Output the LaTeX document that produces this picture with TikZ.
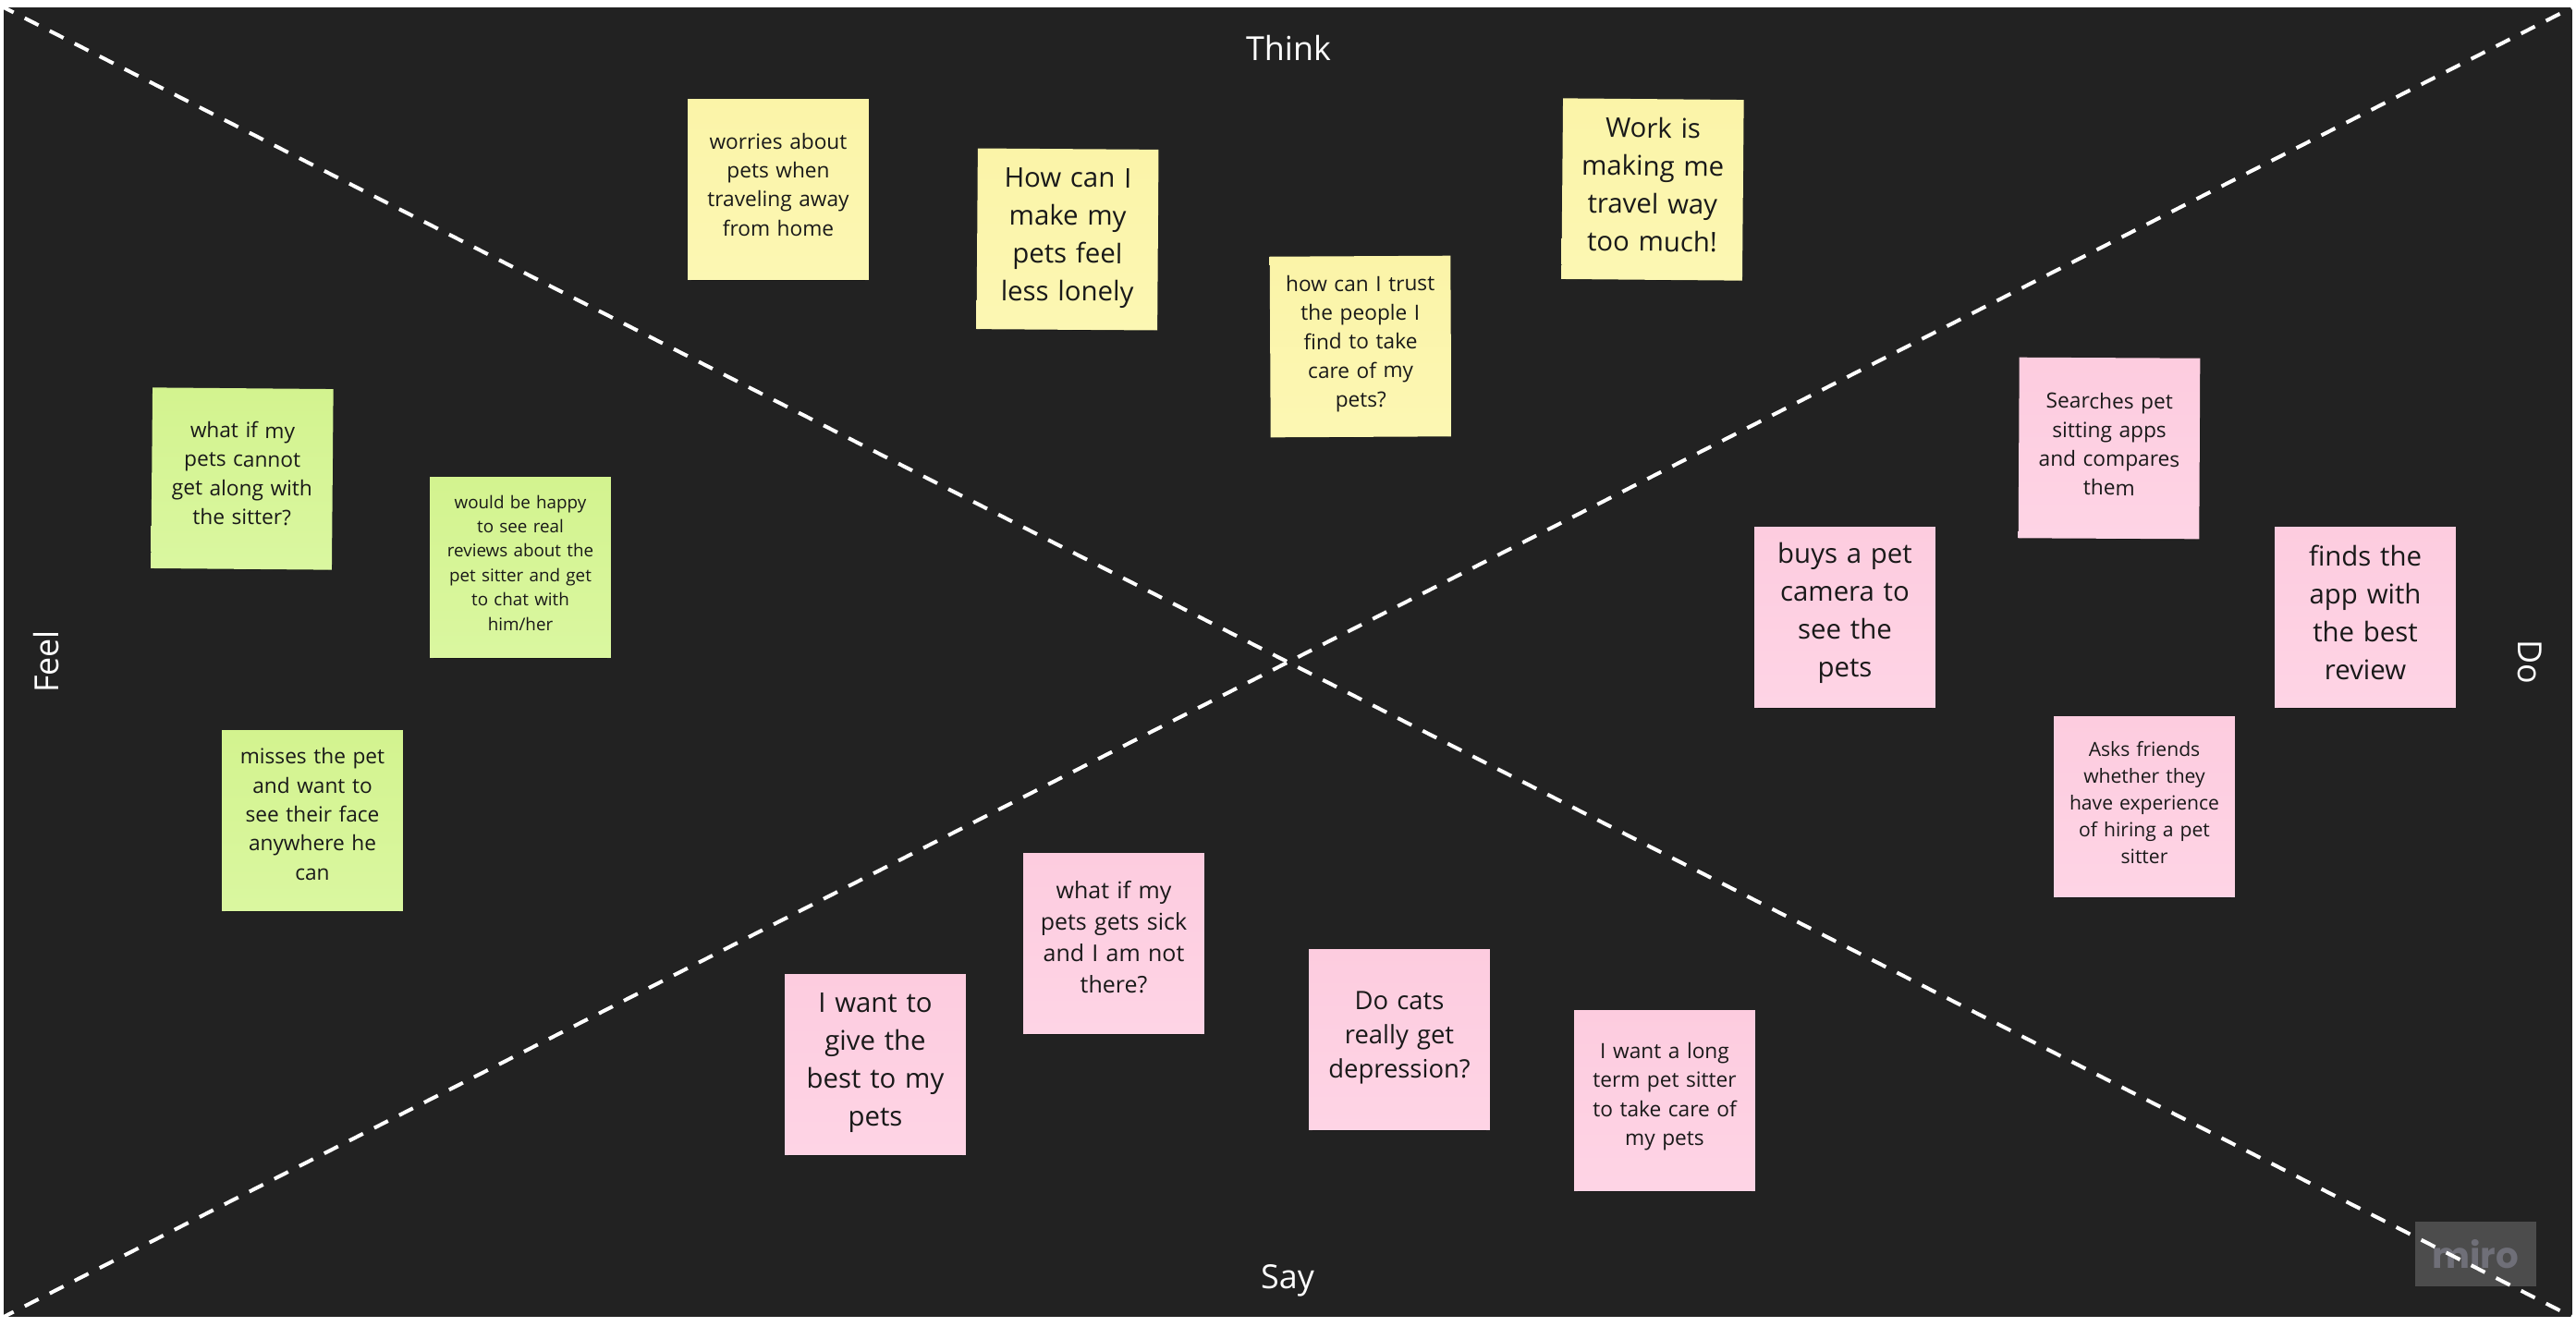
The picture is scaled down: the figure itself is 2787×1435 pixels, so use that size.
\documentclass[tikz,border=0pt]{standalone}
\usepackage{fontspec}
\setmainfont{Open Sans}
\usetikzlibrary{shadows}
\definecolor{boardgrey}{HTML}{222222}
\definecolor{yellowtop}{HTML}{FBF4A8}
\definecolor{yellowlow}{HTML}{FCF7B3}
\definecolor{greentop}{HTML}{D3F38F}
\definecolor{greenlow}{HTML}{DAF7A0}
\definecolor{pinktop}{HTML}{FDCCDF}
\definecolor{pinklow}{HTML}{FED4E5}
\definecolor{badgegrey}{HTML}{4C4C4C}
\definecolor{badgetext}{HTML}{6F6F78}
\tikzset{
	note/.style={minimum size=1.955cm, inner sep=0pt, text width=1.955cm, align=center, text=black!90,
		drop shadow={shadow xshift=0cm, shadow yshift=-0.05cm, shadow scale=0.96, opacity=0.3, fill=black}},
	yellownote/.style={note, top color=yellowtop, bottom color=yellowlow},
	greennote/.style={note, top color=greentop, bottom color=greenlow},
	pinknote/.style={note, top color=pinktop, bottom color=pinklow},
	nudge/.style={execute at end node={\par\vspace{#1}}},
	bigtext/.style={font=\fontsize{8.35pt}{11.65pt}\selectfont},
	cattext/.style={font=\fontsize{7.8pt}{10.6pt}\selectfont},
	sicktext/.style={font=\fontsize{7.1pt}{9.7pt}\selectfont},
	midtext/.style={font=\fontsize{6.45pt}{8.9pt}\selectfont},
	askstext/.style={font=\fontsize{6pt}{8.25pt}\selectfont},
	smalltext/.style={font=\fontsize{5.35pt}{7.5pt}\selectfont},
	sidelabel/.style={text=white, font=\fontsize{10.2pt}{13pt}\selectfont, inner sep=0pt},
	splitline/.style={white, line width=0.04cm, dash pattern=on 0.168cm off 0.135cm, dash phase=0.048cm}
}
\begin{document}
\begin{tikzpicture}[x=0.01cm, y=-0.01cm]
	\useasboundingbox (0,0) rectangle (2787,1435);
	\fill[white] (0,0) rectangle (2787,1435);
	\fill[boardgrey] (4,8) rectangle (2783,1425);
	\coordinate (boardnw) at (4,8);
	\coordinate (boardne) at (2783,8);
	\coordinate (boardsw) at (4,1425);
	\coordinate (boardse) at (2783,1425);
	% badge sits below the dashes
	\fill[badgegrey] (2613,1322) rectangle (2744,1392);
	\node[text=badgetext, font=\fontsize{11pt}{14pt}\fontspec{Poppins}\bfseries, inner sep=0pt] (badge) at (2678,1357) {miro};
	\draw[splitline] (boardnw) -- (boardse);
	\draw[splitline] (boardsw) -- (boardne);
	% quadrant names
	\node[sidelabel] (think) at (1394,52) {Think};
	\node[sidelabel] (say) at (1393,1386) {Say};
	\node[sidelabel, rotate=90] (feel) at (50,716) {Feel};
	\node[sidelabel, rotate=-90] (do) at (2737,716) {Do};
	% think
	\node[yellownote, midtext, nudge=0.107cm] (worries) at (842,205) {worries about\\pets when\\traveling away\\from home};
	\node[yellownote, bigtext, rotate=-0.4, nudge=0.036cm] (lonely) at (1155,259) {How can I\\make my\\pets feel\\less lonely};
	\node[yellownote, midtext, rotate=0.3, nudge=0.062cm] (trust) at (1472,375) {how can I trust\\the people I\\find to take\\care of my\\pets?};
	\node[yellownote, bigtext, rotate=-0.5, nudge=0.107cm] (travel) at (1788,205) {Work is\\making me\\travel way\\too much!};
	% feel
	\node[greennote, midtext, rotate=-0.5, nudge=0.116cm] (along) at (262,518) {what if my\\pets cannot\\get along with\\the sitter?};
	\node[greennote, smalltext, nudge=0.1cm] (reviews) at (563,614) {would be happy\\to see real\\reviews about the\\pet sitter and get\\to chat with\\him/her};
	\node[greennote, midtext, nudge=0.142cm] (misses) at (338,888) {misses the pet\\and want to\\see their face\\anywhere he\\can};
	% do
	\node[pinknote, midtext, rotate=-0.3, nudge=0.089cm] (searches) at (2282,485) {Searches pet\\sitting apps\\and compares\\them};
	\node[pinknote, bigtext, nudge=0.098cm] (camera) at (1996,668) {buys a pet\\camera to\\see the\\pets};
	\node[pinknote, bigtext, nudge=0.107cm] (review) at (2559,668) {finds the\\app with\\the best\\review};
	\node[pinknote, askstext, nudge=0.089cm] (friends) at (2320,873) {Asks friends\\whether they\\have experience\\of hiring a pet\\sitter};
	% say
	\node[pinknote, sicktext, nudge=0.142cm] (sick) at (1205,1021) {what if my\\pets gets sick\\and I am not\\there?};
	\node[pinknote, bigtext, nudge=0.036cm] (best) at (947,1152) {I want to\\give the\\best to my\\pets};
	\node[pinknote, cattext, nudge=0.036cm] (cats) at (1514,1125) {Do cats\\really get\\depression?};
	\node[pinknote, midtext, nudge=0.089cm] (longterm) at (1801,1191) {I want a long\\term pet sitter\\to take care of\\my pets};
\end{tikzpicture}
\end{document}
